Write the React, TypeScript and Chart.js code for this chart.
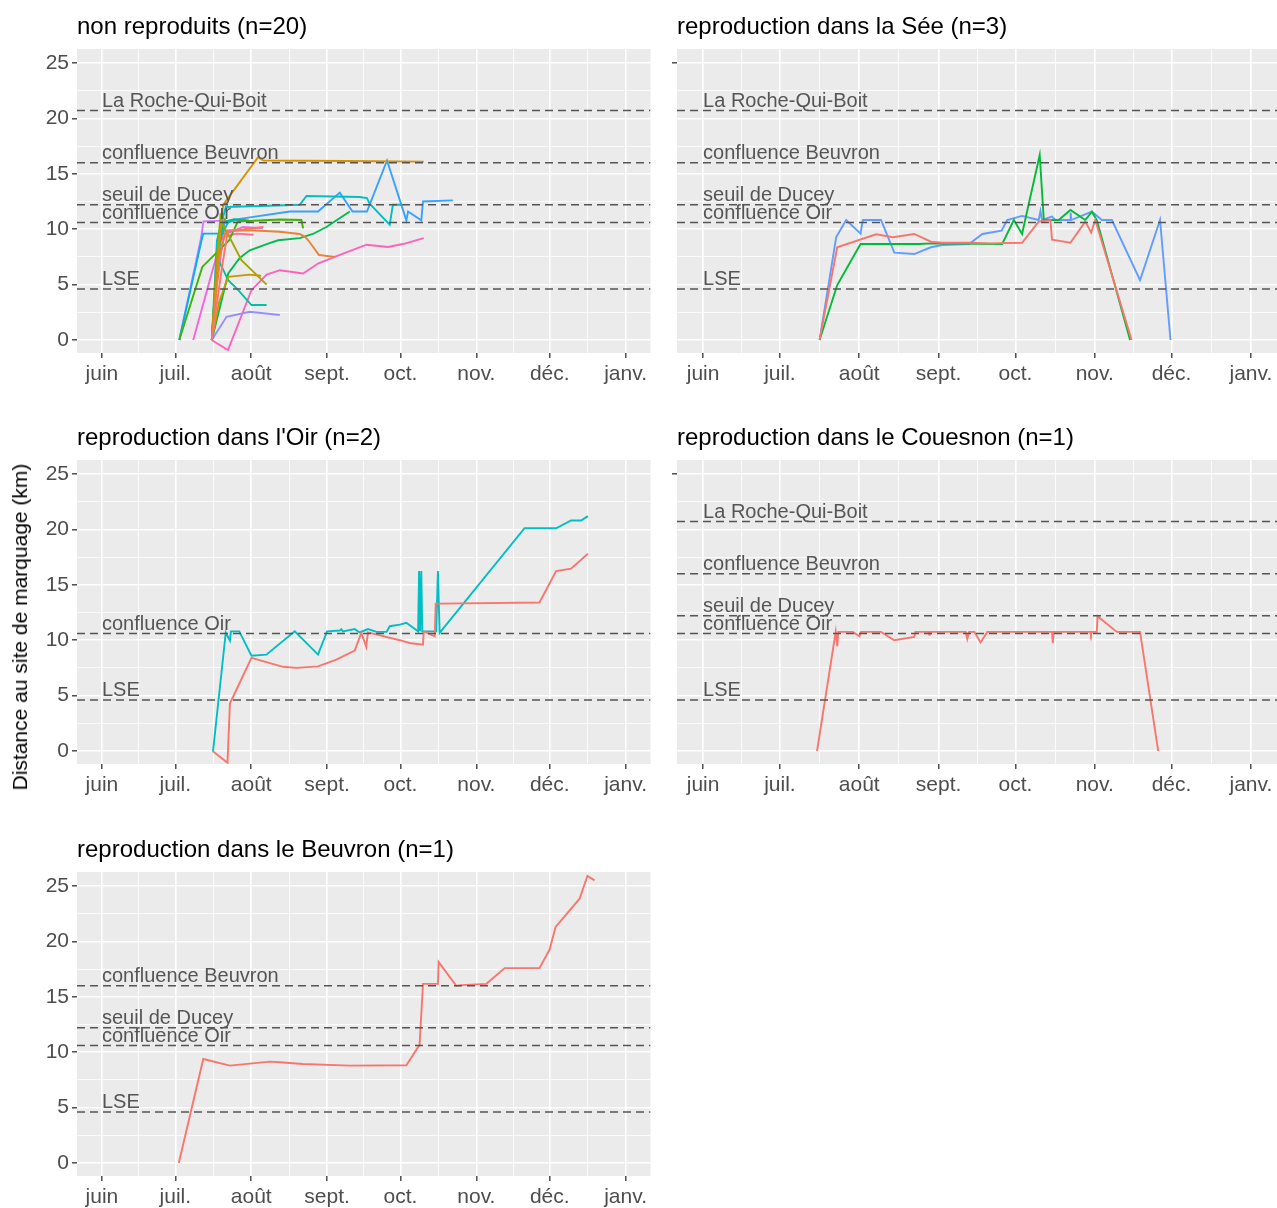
import React, { useEffect, useRef } from 'react';
import { Chart, registerables } from 'chart.js';

Chart.register(...registerables);

const FONT = '"Liberation Sans", Arial, Helvetica, sans-serif';
Chart.defaults.font.family = FONT;

// x values: days since 1 June
const X_MIN = -10.2;
const X_MAX = 224.2;
const Y_MIN = -1.17;
const Y_MAX = 26.26;
const MONTH_DAYS = [0, 30, 61, 92, 122, 153, 183, 214];
const MONTH_LABELS = ['juin', 'juil.', 'août', 'sept.', 'oct.', 'nov.', 'déc.', 'janv.'];
const MINOR_DAYS = [15, 45.5, 76.5, 107, 137.5, 168, 198.5];
const Y_MAJOR = [0, 5, 10, 15, 20, 25];
const Y_MINOR = [2.5, 7.5, 12.5, 17.5, 22.5];

const REF_NAMES = ['La Roche-Qui-Boit', 'confluence Beuvron', 'seuil de Ducey', 'confluence Oir', 'LSE'];
const REF_KM = [20.7, 16.0, 12.2, 10.6, 4.6];
const REF_LABEL_DAY = 0;

const HUE20 = ['#F8766D', '#EA8331', '#D89000', '#C09B00', '#A3A500', '#7CAE00', '#39B600', '#00BB4E', '#00BF7D', '#00C1A3',
  '#00BFC4', '#00BAE0', '#00B0F6', '#35A2FF', '#9590FF', '#C77CFF', '#E76BF3', '#FA62DB', '#FF62BC', '#FF6C91'];
const HUE3 = ['#F8766D', '#00BA38', '#619CFF'];
const HUE2 = ['#F8766D', '#00BFC4'];

type P = [number, number];

// --- non reproduits (n=20)
const NR01: P[] = [[44.9, 0], [49, 6.5], [51.5, 9.9], [58, 10.0], [66, 10.2]];
const NR02: P[] = [[44.9, 0], [48, 7.5], [50.5, 9.8], [60, 9.9], [72.7, 9.77], [80.8, 9.57], [82.9, 9.33], [84.3, 9.0], [88.7, 7.67], [95.1, 7.5]];
const NR03: P[] = [[44.9, 0], [48.5, 10], [49.5, 12.2], [63.8, 16.5], [66, 16.2], [100, 16.15], [131.5, 16.1]];
const NR04: P[] = [[44.9, 0], [48, 3.5], [51.6, 5.7], [60.4, 5.9], [65, 5.8]];
const NR05: P[] = [[44.9, 0], [47.5, 8.5], [49, 10.6], [57, 7.2], [67.3, 5.0]];
const NR06: P[] = [[44.9, 0], [46.8, 7], [48.5, 11.3], [50.5, 10.8]];
const NR07: P[] = [[31.6, 0], [41, 6.6], [52, 9.0], [55.5, 10.7], [72.7, 10.88], [81.5, 10.83], [82.2, 10.08]];
const NR08: P[] = [[44.9, 0], [51.6, 6.0], [56.3, 7.4], [60.4, 8.1], [67.9, 8.7], [72, 9.0], [80.8, 9.2], [86.2, 9.57], [91.7, 10.2], [101.3, 11.6]];
const NR09: P[] = [[44.9, 0], [47.5, 8], [49.5, 10.6], [54, 10.9], [60, 10.8]];
const NR10: P[] = [[44.9, 0], [47, 7.5], [51.6, 5.4], [55.7, 4.5], [61.1, 3.16], [67.3, 3.16]];
const NR11: P[] = [[44.9, 0], [47, 9], [50.6, 12.0], [65, 12.1], [80.8, 12.2], [83.6, 13.0], [105.3, 12.9], [108.3, 12.8], [109.4, 12.3], [117.6, 10.4], [118.9, 12.2], [122.4, 12.2]];
const NR12: P[] = [[44.9, 0], [46.5, 5], [48.5, 9.3], [51.5, 10.6], [54, 10.8]];
const NR13: P[] = [[31.6, 0], [40.7, 9.0], [41.4, 9.6], [50.2, 9.6]];
const NR14: P[] = [[44.9, 0], [47.5, 8], [50.2, 10.7], [58.4, 11.0], [76.8, 11.6], [88.3, 11.6], [97.2, 13.3], [102.4, 11.6], [108.3, 11.6], [116.5, 16.2], [124.4, 10.8], [125.1, 11.6], [130.5, 10.8], [131.2, 12.5], [143.4, 12.6]];
const NR15: P[] = [[44.9, 0], [50.9, 2.1], [60.4, 2.55], [72.7, 2.26]];
const NR16: P[] = [[31.6, 0], [40.5, 9.2], [41.5, 10.7], [47, 10.75], [50.7, 10.75], [59, 10.8]];
const NR17: P[] = [[44.9, 0], [47, 6], [50, 9.5], [57.6, 10.2], [65.8, 10.1]];
const NR18: P[] = [[37.3, 0], [48.6, 9.0], [50, 10.6], [52, 10.6]];
const NR19: P[] = [[44.8, 0], [51.5, -0.9], [61.1, 4.5], [67.3, 5.9], [72.7, 6.3], [82.2, 6.0], [88.3, 6.9], [95.1, 7.5], [108.1, 8.6], [116.9, 8.4], [123.0, 8.66], [131.5, 9.2]];
const NR20: P[] = [[44.9, 0], [47, 5], [49.5, 9.3], [55, 9.6], [62, 9.5]];
const NR_ALL = [NR01, NR02, NR03, NR04, NR05, NR06, NR07, NR08, NR09, NR10, NR11, NR12, NR13, NR14, NR15, NR16, NR17, NR18, NR19, NR20];

// --- reproduction dans la Sée (n=3)
const SEE_1: P[] = [[45.5, 0], [52.4, 8.37], [67.6, 9.54], [74.1, 9.27], [82.5, 9.57], [89.0, 8.87], [93.5, 8.78], [105.2, 8.78], [111.7, 8.72], [124.6, 8.78], [131.1, 10.68], [135.7, 10.83], [136.3, 9.05], [143.5, 8.78], [149.3, 10.68], [151.6, 9.69], [153.2, 10.83], [167.4, 0]];
const SEE_2: P[] = [[45.5, 0], [52.4, 4.96], [61.5, 8.66], [84.4, 8.66], [89.6, 8.72], [116.8, 8.66], [121.4, 10.83], [124.6, 9.57], [131.5, 16.7], [133.1, 10.83], [138.9, 10.83], [143.5, 11.73], [149.3, 10.83], [151.9, 11.58], [153.8, 10.83], [166.8, 0]];
const SEE_3: P[] = [[45.5, 0], [52.0, 9.3], [55.9, 10.83], [61.5, 9.6], [62.4, 10.83], [69.5, 10.83], [74.7, 7.88], [82.5, 7.76], [89.0, 8.37], [93.5, 8.57], [103.9, 8.66], [109.1, 9.57], [116.6, 9.87], [118.8, 10.83], [124.6, 11.2], [131.1, 10.83], [131.8, 11.64], [132.4, 10.83], [136.3, 11.13], [137.6, 10.83], [143.5, 10.83], [143.6, 11.5], [143.8, 10.83], [151.9, 11.58], [155.8, 10.83], [159.7, 10.83], [170.7, 5.4], [178.5, 10.83], [182.6, 0]];

// --- reproduction dans l'Oir (n=2)
const OIR_1: P[] = [[45.2, 0], [51.3, -1.06], [52.3, 4.3], [53.6, 4.9], [61.1, 8.4], [74.0, 7.6], [79.5, 7.5], [88.3, 7.64], [95.8, 8.24], [103.3, 9.06], [106.0, 10.66], [108.0, 9.4], [108.7, 10.7], [121.7, 10.0], [125.7, 9.75], [131.2, 9.6], [131.5, 10.8], [136, 10.35], [136.4, 13.3], [138, 13.3], [178.8, 13.4], [185.6, 16.24], [191.7, 16.46], [198.6, 17.8]];
const OIR_2: P[] = [[45.4, 0], [50.6, 10.7], [52.3, 9.96], [52.7, 10.8], [56.1, 10.8], [61.1, 8.6], [67.2, 8.7], [78.8, 10.8], [88.3, 8.7], [92, 10.8], [97.2, 10.87], [97.8, 11.0], [98.5, 10.8], [103.3, 11.0], [105.3, 10.7], [108.7, 11.0], [112.2, 10.75], [116.3, 10.75], [117.6, 11.26], [121.7, 11.4], [124.4, 11.57], [129.2, 10.8], [129.6, 16.24], [130.0, 10.8], [130.5, 16.24], [130.9, 10.8], [136.6, 10.8], [137.3, 16.24], [138.0, 10.66], [172.7, 20.1], [185.6, 20.1], [191.7, 20.8], [195.8, 20.8], [198.6, 21.2]];

// --- reproduction dans le Couesnon (n=1)
const COU_1: P[] = [[44.5, 0], [51.8, 10.75], [52.4, 9.45], [52.8, 10.75], [58.5, 10.75], [61.1, 10.35], [61.7, 10.75], [69.5, 10.75], [74.7, 10.0], [82.5, 10.3], [82.9, 10.75], [88.1, 10.75], [88.3, 10.5], [88.6, 10.75], [102.6, 10.75], [103.2, 10.1], [103.9, 10.75], [106, 10.75], [108.4, 9.8], [111, 10.75], [136.3, 10.75], [136.6, 9.75], [137, 10.75], [151.2, 10.75], [151.5, 10.5], [151.8, 10.75], [153.8, 10.75], [154.1, 12.17], [161.6, 10.75], [170.7, 10.75], [177.8, 0]];

// --- reproduction dans le Beuvron (n=1)
const BEU_1: P[] = [[31.4, 0], [41.4, 9.39], [52.3, 8.79], [68.6, 9.15], [72.7, 9.1], [82.2, 8.94], [101.3, 8.79], [124.4, 8.82], [129.8, 10.66], [131.2, 16.17], [137.3, 16.17], [137.6, 18.13], [144.8, 15.99], [146.7, 16.05], [157.1, 16.17], [164.6, 17.59], [178.8, 17.59], [182.9, 19.24], [185.4, 21.3], [195.2, 23.85], [198.4, 25.9], [201.3, 25.5]];

type PanelDef = {
  title: string;
  series: P[][];
  colors: string[];
  refs: number[];
  col: number;
  row: number;
};

const PANELS: PanelDef[] = [
  { title: 'non reproduits (n=20)', series: NR_ALL, colors: HUE20, refs: [0, 1, 2, 3, 4], col: 0, row: 0 },
  { title: 'reproduction dans la Sée (n=3)', series: [SEE_1, SEE_2, SEE_3], colors: HUE3, refs: [0, 1, 2, 3, 4], col: 1, row: 0 },
  { title: "reproduction dans l'Oir (n=2)", series: [OIR_1, OIR_2], colors: HUE2, refs: [3, 4], col: 0, row: 1 },
  { title: 'reproduction dans le Couesnon (n=1)', series: [COU_1], colors: HUE2, refs: [0, 1, 2, 3, 4], col: 1, row: 1 },
  { title: 'reproduction dans le Beuvron (n=1)', series: [BEU_1], colors: HUE2, refs: [1, 2, 3, 4], col: 0, row: 2 },
];

// layout (pixels)
const COL_LEFT = [0, 651];
const COL_YAXIS_W = [77, 26];
const COL_W = [651, 626];
const ROW_PLOT_TOP = [49, 460, 872];
const PLOT_H = 304;
const TOP_PAD = 46;
const XAXIS_H = 32;

function makeDeco(title: string, refs: number[]) {
  return {
    id: 'panelDeco',
    beforeDraw(chart: any) {
      const { ctx, chartArea: a } = chart;
      ctx.save();
      ctx.fillStyle = '#EBEBEB';
      ctx.fillRect(a.left, a.top, a.right - a.left, a.bottom - a.top);
      ctx.restore();
    },
    afterDatasetsDraw(chart: any) {
      const { ctx, chartArea: a, scales } = chart;
      ctx.save();
      ctx.beginPath();
      ctx.rect(a.left, a.top, a.right - a.left, a.bottom - a.top);
      ctx.clip();
      refs.forEach((i) => {
        const y = scales.y.getPixelForValue(REF_KM[i]);
        ctx.setLineDash([8, 5]);
        ctx.strokeStyle = '#555555';
        ctx.lineWidth = 1.5;
        ctx.beginPath();
        ctx.moveTo(a.left, y);
        ctx.lineTo(a.right, y);
        ctx.stroke();
        ctx.setLineDash([]);
        ctx.fillStyle = '#555555';
        ctx.font = `20px ${FONT}`;
        ctx.textAlign = 'left';
        ctx.textBaseline = 'alphabetic';
        ctx.fillText(REF_NAMES[i], scales.x.getPixelForValue(REF_LABEL_DAY), y - 4);
      });
      ctx.restore();
      ctx.save();
      ctx.fillStyle = '#000000';
      ctx.font = `24px ${FONT}`;
      ctx.textAlign = 'left';
      ctx.textBaseline = 'middle';
      ctx.fillText(title, a.left, a.top - 22);
      ctx.restore();
    },
  };
}

function Panel({ def }: { def: PanelDef }) {
  const ref = useRef<HTMLCanvasElement | null>(null);
  const width = COL_W[def.col];
  const height = PLOT_H + TOP_PAD + XAXIS_H;
  const left = COL_LEFT[def.col];
  const top = ROW_PLOT_TOP[def.row] - TOP_PAD;
  const yAxisW = COL_YAXIS_W[def.col];
  const showYLabels = def.col === 0;

  useEffect(() => {
    if (!ref.current) return;
    const isMajorX = (v: number) => MONTH_DAYS.includes(v);
    const isMajorY = (v: number) => Y_MAJOR.includes(v);
    const chart = new Chart(ref.current, {
      type: 'line',
      data: {
        datasets: def.series.map((s, i) => ({
          data: s.map(([x, y]) => ({ x, y })),
          borderColor: def.colors[i % def.colors.length],
          backgroundColor: def.colors[i % def.colors.length],
          borderWidth: 1.9,
          pointRadius: 0,
          tension: 0,
          fill: false,
        })),
      },
      options: {
        responsive: false,
        animation: false,
        devicePixelRatio: 1,
        layout: { padding: { top: TOP_PAD, left: 0, right: 0, bottom: 0 } },
        plugins: { legend: { display: false }, tooltip: { enabled: false }, title: { display: false } },
        scales: {
          x: {
            type: 'linear',
            min: X_MIN,
            max: X_MAX,
            afterBuildTicks: (s: any) => {
              s.ticks = [...MONTH_DAYS, ...MINOR_DAYS].sort((a, b) => a - b).map((v) => ({ value: v }));
            },
            afterFit: (s: any) => {
              s.height = XAXIS_H;
            },
            ticks: {
              autoSkip: false,
              maxRotation: 0,
              minRotation: 0,
              padding: 4,
              color: '#4D4D4D',
              font: { family: FONT, size: 21 },
              callback: (v: any) => {
                const i = MONTH_DAYS.indexOf(Number(v));
                return i >= 0 ? MONTH_LABELS[i] : '';
              },
            },
            grid: {
              color: '#FFFFFF',
              lineWidth: (c: any) => (c.tick && isMajorX(c.tick.value) ? 1.6 : 0.8),
              tickColor: (c: any) => (c.tick && isMajorX(c.tick.value) ? '#333333' : 'rgba(0,0,0,0)'),
              tickLength: 5,
              tickWidth: 1.3,
            },
            border: { display: false },
          },
          y: {
            type: 'linear',
            min: Y_MIN,
            max: Y_MAX,
            afterBuildTicks: (s: any) => {
              s.ticks = [...Y_MAJOR, ...Y_MINOR].sort((a, b) => a - b).map((v) => ({ value: v }));
            },
            afterFit: (s: any) => {
              s.width = yAxisW;
            },
            ticks: {
              autoSkip: false,
              padding: 3,
              color: '#4D4D4D',
              font: { family: FONT, size: 21 },
              callback: (v: any) => (showYLabels && isMajorY(Number(v)) ? String(v) : ''),
            },
            grid: {
              color: '#FFFFFF',
              lineWidth: (c: any) => (c.tick && isMajorY(c.tick.value) ? 1.6 : 0.8),
              tickColor: (c: any) => {
                if (!c.tick) return 'rgba(0,0,0,0)';
                if (showYLabels) return isMajorY(c.tick.value) ? '#333333' : 'rgba(0,0,0,0)';
                return c.tick.value === 25 ? '#333333' : 'rgba(0,0,0,0)';
              },
              tickLength: 5,
              tickWidth: 1.3,
            },
            border: { display: false },
          },
        },
      },
      plugins: [makeDeco(def.title, def.refs)],
    } as any);
    return () => chart.destroy();
  }, []);

  return (
    <canvas
      ref={ref}
      width={width}
      height={height}
      style={{ position: 'absolute', left, top, width, height }}
    />
  );
}

export default function App() {
  return (
    <div style={{ position: 'absolute', left: 0, top: 0, width: 1277, height: 1208, background: '#FFFFFF', overflow: 'hidden' }}>
      {PANELS.map((p, i) => (
        <Panel key={i} def={p} />
      ))}
      <div
        style={{
          position: 'absolute',
          left: 20,
          top: 627,
          transform: 'translate(-50%, -50%) rotate(-90deg)',
          whiteSpace: 'nowrap',
          font: `21px ${FONT}`,
          color: '#000000',
        }}
      >
        Distance au site de marquage (km)
      </div>
    </div>
  );
}
